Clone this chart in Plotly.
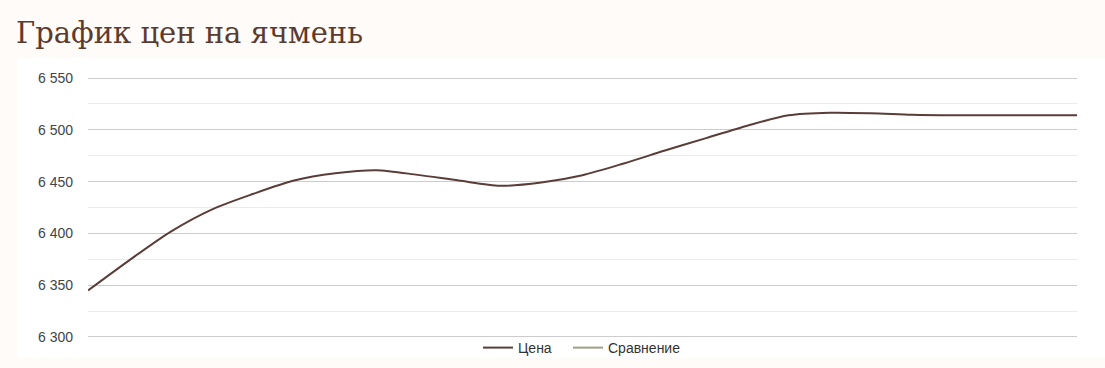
import plotly.graph_objects as go

obs = list(range(25))
price = [6344.9, 6374.0, 6401.5, 6423.0, 6438.0, 6451.0, 6458.0, 6461.0, 6456.5,
         6451.0, 6446.0, 6449.2, 6456.2, 6467.5, 6480.0, 6492.0, 6504.0, 6514.0,
         6516.5, 6516.0, 6514.5, 6514.0, 6514.0, 6514.0, 6514.0]
y_ticks = [6300, 6350, 6400, 6450, 6500, 6550]
title_text = "График цен на ячмень"
series_names = ["Цена", "Сравнение"]

W, H = 1105, 368
ml, mr, mt, mb = 88, 28, 77, 30
pw, ph = W - ml - mr, H - mt - mb

fig = go.Figure()
fig.add_trace(go.Scatter(x=obs, y=price, mode="lines", name=series_names[0], legend="legend",
                         line=dict(color="#5a3d38", width=2, shape="spline", smoothing=0.8)))
fig.add_trace(go.Scatter(x=[None], y=[None], mode="lines", name=series_names[1], legend="legend2",
                         line=dict(color="#a0a088", width=2)))

# white panel behind the chart
fig.add_shape(type="rect", xref="paper", yref="paper", layer="below",
              x0=(17 - ml) / pw, x1=(W - ml) / pw,
              y0=((mt + ph) - 358) / ph, y1=(mt + ph - 58) / ph,
              fillcolor="white", line=dict(width=0))

leg_common = dict(orientation="h", xanchor="left", y=(mt + ph - 348) / ph,
                  yanchor="middle", bgcolor="rgba(0,0,0,0)",
                  font=dict(size=14, color="#333"), itemwidth=30)

fig.update_layout(
    width=W, height=H,
    margin=dict(l=ml, r=mr, t=mt, b=mb, autoexpand=False),
    paper_bgcolor="#fffbf8",
    plot_bgcolor="white",
    separators=", ",
    font=dict(family="Liberation Sans, Arial, sans-serif", size=14, color="#444"),
    title=dict(text=title_text, xref="container", yref="container",
               x=16 / W, xanchor="left", y=1 - 33 / H, yanchor="middle",
               font=dict(family="DejaVu Serif, serif", size=29, color="#5b3a30")),
    showlegend=True,
    legend=dict(x=(478 - ml) / pw, **leg_common),
    legend2=dict(x=(568 - ml) / pw, **leg_common),
    xaxis=dict(range=[0, len(obs) - 1], visible=False, showgrid=False, zeroline=False),
    yaxis=dict(range=[6299, 6551], tickvals=y_ticks, tickformat=",d",
               showgrid=True, gridcolor="#cccccc", gridwidth=1, zeroline=False,
               showline=False, ticks="", ticklabelstandoff=14,
               tickfont=dict(size=14, color="#444"),
               minor=dict(dtick=25, tick0=6300, showgrid=True, gridcolor="#ebebeb", gridwidth=1)),
)

fig.write_html("out.html")
